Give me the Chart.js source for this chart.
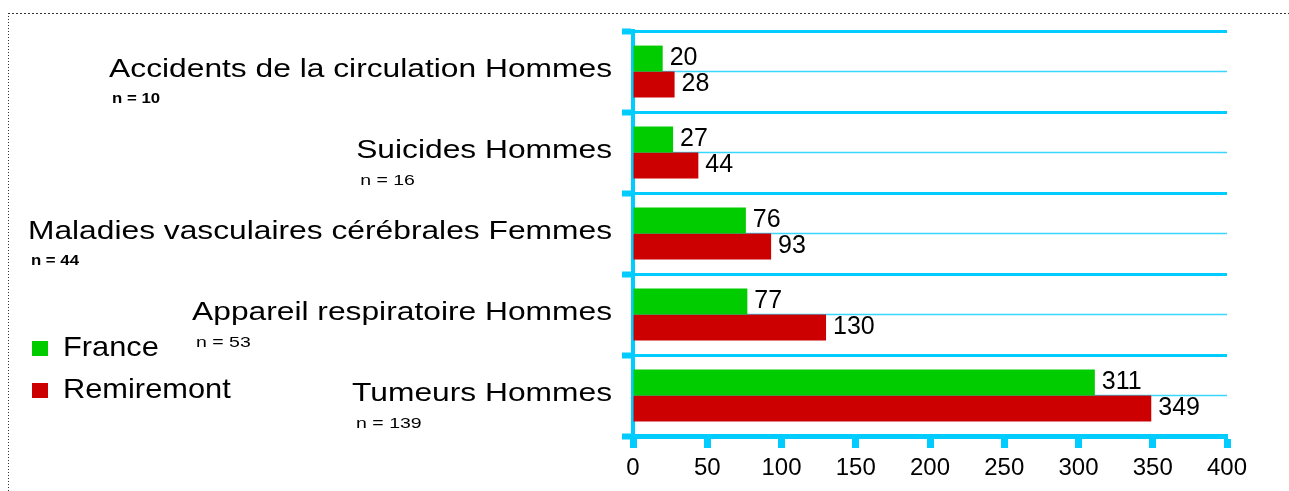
<!DOCTYPE html>
<html><head><meta charset="utf-8">
<script src="https://cdn.jsdelivr.net/npm/chart.js@4.4.1/dist/chart.umd.min.js"></script>
<style>
html,body{margin:0;padding:0;background:#fff;overflow:hidden}
#wrap{position:relative;width:1289px;height:491px}
canvas{position:absolute;left:0;top:0}
.dotH{position:absolute;left:8px;top:13px;width:1281px;height:1px;background:repeating-linear-gradient(to right,#333 0 2px,transparent 2px 4px)}
.dotV{position:absolute;left:8px;top:13px;width:1px;height:478px;background:repeating-linear-gradient(to bottom,#333 0 1px,transparent 1px 3px)}
</style></head><body>
<div id="wrap"><canvas id="c" width="1289" height="491"></canvas><div class="dotH"></div><div class="dotV"></div></div>
<script>
// ---- data ----
const categories = ['Accidents de la circulation Hommes', 'Suicides Hommes', 'Maladies vasculaires cérébrales Femmes', 'Appareil respiratoire Hommes', 'Tumeurs Hommes'];
const sampleSizes = ['n = 10', 'n = 16', 'n = 44', 'n = 53', 'n = 139'];
const seriesNames = ['France', 'Remiremont'];
const franceValues = [20, 27, 76, 77, 311];
const remiremontValues = [28, 44, 93, 130, 349];
const xMin = 0, xMax = 400, xStep = 50;

// ---- styles ----
const CYAN = '#00ccff';
const GREEN = '#00cc00';
const RED = '#cc0000';
const FONT = '"Liberation Sans", Arial, sans-serif';
const boldSample = new Set([0, 2]);

function stretchText(ctx, text, x, y, sx, align) {
  ctx.save();
  ctx.translate(x, y);
  ctx.scale(sx, 1);
  ctx.textAlign = align;
  ctx.fillText(text, 0, 0);
  ctx.restore();
}

const decorPlugin = {
  id: 'decor',
  beforeDatasetsDraw(chart) {
    const {ctx, chartArea: a, scales: {y}} = chart;
    ctx.save();
    ctx.strokeStyle = '#3ad6ff';
    ctx.lineWidth = 1.5;
    categories.forEach((c, i) => {
      const py = y.getPixelForValue(i);
      ctx.beginPath();
      ctx.moveTo(a.left, py);
      ctx.lineTo(a.right, py);
      ctx.stroke();
    });
    ctx.restore();
  },
  afterDraw(chart) {
    const {ctx, chartArea: a, scales: {y}} = chart;
    ctx.save();
    ctx.fillStyle = '#000';
    ctx.textBaseline = 'middle';
    // category labels + sample sizes
    const labelRight = a.left - 21;
    const sxLab = 1.27;
    categories.forEach((c, i) => {
      const py = y.getPixelForValue(i);
      ctx.font = '25px ' + FONT;
      const w = ctx.measureText(c).width * sxLab;
      stretchText(ctx, c, labelRight, py - 1, sxLab, 'right');
      const left = labelRight - w;
      if (boldSample.has(i)) {
        ctx.font = 'bold 14px ' + FONT;
        stretchText(ctx, sampleSizes[i], left + 3, py + 28, 1.2, 'left');
      } else {
        ctx.font = '15px ' + FONT;
        stretchText(ctx, sampleSizes[i], left + 4, py + 28, 1.3, 'left');
      }
    });
    // value labels
    ctx.font = '25px ' + FONT;
    ctx.textAlign = 'left';
    chart.data.datasets.forEach((ds, d) => {
      chart.getDatasetMeta(d).data.forEach((bar, i) => {
        ctx.fillText(String(ds.data[i]), bar.x + 7, bar.y);
      });
    });
    // legend
    chart.data.datasets.forEach((ds, d) => {
      const ly = 348 + d * 42;
      ctx.fillStyle = ds.backgroundColor;
      ctx.fillRect(32, ly - 7, 16, 15);
      ctx.fillStyle = '#000';
      ctx.font = '28px ' + FONT;
      stretchText(ctx, ds.label, 63, ly, 1.1, 'left');
    });
    ctx.restore();
  }
};

new Chart(document.getElementById('c'), {
  type: 'bar',
  data: {
    labels: categories,
    datasets: [
      {label: seriesNames[0], data: franceValues, backgroundColor: GREEN, categoryPercentage: 0.64, barPercentage: 1.0},
      {label: seriesNames[1], data: remiremontValues, backgroundColor: RED, categoryPercentage: 0.64, barPercentage: 1.0}
    ]
  },
  options: {
    indexAxis: 'y',
    responsive: false,
    animation: false,
    devicePixelRatio: 1,
    layout: {padding: {left: 0, top: 31, right: 62, bottom: 0}},
    plugins: {legend: {display: false}, tooltip: {enabled: false}},
    scales: {
      x: {
        type: 'linear', min: xMin, max: xMax,
        ticks: {stepSize: xStep, color: '#000', font: {family: FONT, size: 24}, padding: 6},
        grid: {drawOnChartArea: false, drawTicks: true, tickLength: 12, tickWidth: 7, tickColor: CYAN},
        border: {color: CYAN, width: 5},
        afterFit(s) { s.height = 55; }
      },
      y: {
        type: 'category', offset: true,
        ticks: {display: false},
        grid: {offset: true, color: CYAN, lineWidth: 3, drawTicks: true, tickLength: 11, tickWidth: 6, tickColor: CYAN},
        border: {color: CYAN, width: 4},
        afterFit(s) { s.width = 633; }
      }
    }
  },
  plugins: [decorPlugin]
});
</script>
</body></html>
